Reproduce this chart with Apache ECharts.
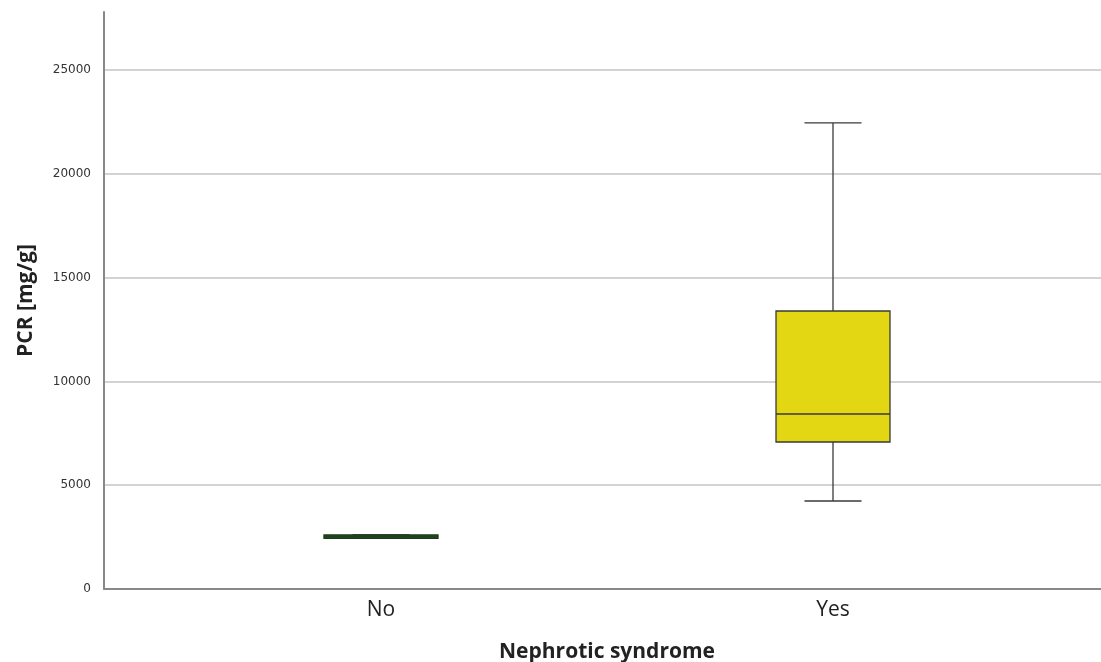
<!DOCTYPE html>
<html>
<head>
<meta charset="utf-8">
<script src="https://cdn.jsdelivr.net/npm/echarts@6/dist/echarts.min.js"></script>
<style>html,body{margin:0;padding:0;background:#fff}#c{width:1101px;height:662px}</style>
</head>
<body>
<div id="c"></div>
<script>
// Data
const categories = ['No', 'Yes'];
// [min, Q1, median, Q3, max]
const boxNo  = [2440, 2440, 2510, 2600, 2600];
const boxYes = [4240, 7080, 8430, 13390, 22450];
const boxColors = ['#2f5e2a', '#e2d712'];
const boxBorders = ['#1a3a1a', '#3a3a3a'];
const yTicks = [0, 5000, 10000, 15000, 20000, 25000];
const yTitle = 'PCR [mg/g]';
const xTitle = 'Nephrotic syndrome';

const boxes = [boxNo, boxYes];
const seriesData = boxes.map((b, i) => [i].concat(b));

const chart = echarts.init(document.getElementById('c'));
const yMaxVis = yTicks[yTicks.length - 1];
const BOX_W = 114, CAP_W = 57;

function renderBox(params, api) {
  const i = api.value(0);
  const cx = api.coord([i, 0])[0];
  const yMin = api.coord([i, api.value(1)])[1];
  const yQ1 = api.coord([i, api.value(2)])[1];
  const yMed = api.coord([i, api.value(3)])[1];
  const yQ3 = api.coord([i, api.value(4)])[1];
  const yMax = api.coord([i, api.value(5)])[1];
  const lc = boxBorders[i];
  const ls = {stroke: lc, lineWidth: 1.3};
  return {
    type: 'group',
    children: [
      {type: 'line', shape: {x1: cx, y1: yMax, x2: cx, y2: yQ3}, style: ls},
      {type: 'line', shape: {x1: cx, y1: yQ1, x2: cx, y2: yMin}, style: ls},
      {type: 'line', shape: {x1: cx - CAP_W / 2, y1: yMax, x2: cx + CAP_W / 2, y2: yMax}, style: ls},
      {type: 'line', shape: {x1: cx - CAP_W / 2, y1: yMin, x2: cx + CAP_W / 2, y2: yMin}, style: ls},
      {type: 'rect', shape: {x: cx - BOX_W / 2, y: yQ3, width: BOX_W, height: yQ1 - yQ3},
       style: {fill: boxColors[i], stroke: lc, lineWidth: 1.3}},
      {type: 'line', shape: {x1: cx - BOX_W / 2, y1: yMed, x2: cx + BOX_W / 2, y2: yMed}, style: ls}
    ]
  };
}

chart.setOption({
  animation: false,
  backgroundColor: '#fff',
  grid: [
    {left: 104, right: 0, top: 12, bottom: 73, outerBoundsMode: 'none', containLabel: false},
    {left: 104, right: 0, top: 70, bottom: 73, outerBoundsMode: 'none', containLabel: false},
    {left: 155, right: 42, top: 70, bottom: 73, outerBoundsMode: 'none', containLabel: false}
  ],
  xAxis: [
    {gridIndex: 0, type: 'value', min: 0, max: 1,
     axisLine: {show: true, lineStyle: {color: '#888', width: 2}},
     axisTick: {show: false}, axisLabel: {show: false}, splitLine: {show: false}},
    {gridIndex: 1, type: 'value', min: 0, max: 1, show: false},
    {gridIndex: 2, type: 'category', data: categories,
     axisLine: {show: false}, axisTick: {show: false}, splitLine: {show: false},
     axisLabel: {fontSize: 21, color: '#222', margin: 11, fontFamily: 'Open Sans'},
     name: xTitle, nameLocation: 'middle', nameGap: 53,
     nameTextStyle: {fontSize: 21, fontWeight: 'bold', color: '#222', fontFamily: 'Open Sans'}}
  ],
  yAxis: [
    {gridIndex: 0, type: 'value', min: 0, max: 27800,
     axisLine: {show: true, lineStyle: {color: '#888', width: 2}},
     axisTick: {show: false}, axisLabel: {show: false}, splitLine: {show: false},
     name: yTitle, nameLocation: 'middle', nameGap: 67,
     nameTextStyle: {fontSize: 21, fontWeight: 'bold', color: '#222', fontFamily: 'Open Sans'}},
    {gridIndex: 1, type: 'value', min: yTicks[0], max: yMaxVis, interval: 5000,
     axisLine: {show: false}, axisTick: {show: false},
     axisLabel: {fontSize: 12, color: '#333', margin: 13, fontFamily: 'DejaVu Sans',
                 formatter: v => String(v)},
     splitLine: {show: true, lineStyle: {color: '#c4c4c4', width: 1.5}}},
    {gridIndex: 2, type: 'value', min: 0, max: yMaxVis, show: false}
  ],
  series: [{
    type: 'custom',
    xAxisIndex: 2, yAxisIndex: 2,
    renderItem: renderBox,
    encode: {x: 0, y: [1, 2, 3, 4, 5]},
    data: seriesData
  }]
});
</script>
</body>
</html>
